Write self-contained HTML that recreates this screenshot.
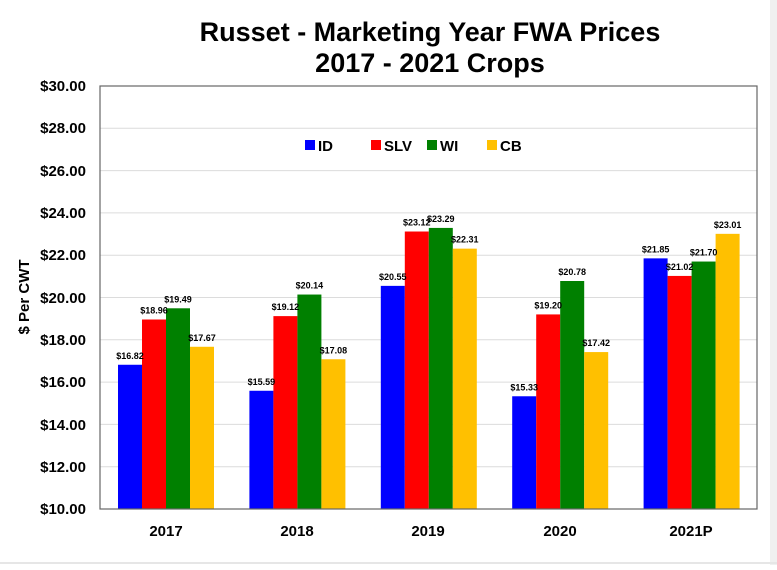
<!DOCTYPE html>
<html><head><style>
body{margin:0;background:#fff;}
svg text{font-family:"Liberation Sans",Arial,sans-serif;font-weight:bold;}
</style></head><body>
<svg width="777" height="565" xmlns="http://www.w3.org/2000/svg">
<rect x="0" y="0" width="777" height="565" fill="#fff"/>
<rect x="770" y="0" width="7" height="565" fill="#f0f0f0"/>
<line x1="0" y1="563" x2="777" y2="563" stroke="#e6e6e6" stroke-width="2"/>
<text x="430" y="41" font-size="27" text-anchor="middle" fill="#000">Russet - Marketing Year FWA Prices</text>
<text x="430" y="72" font-size="27" text-anchor="middle" fill="#000">2017 - 2021 Crops</text>
<g stroke="#dcdcdc" stroke-width="1">
<line x1="100" y1="128.3" x2="757" y2="128.3"/><line x1="100" y1="170.6" x2="757" y2="170.6"/>
<line x1="100" y1="212.9" x2="757" y2="212.9"/><line x1="100" y1="255.2" x2="757" y2="255.2"/>
<line x1="100" y1="297.5" x2="757" y2="297.5"/><line x1="100" y1="339.8" x2="757" y2="339.8"/>
<line x1="100" y1="382.1" x2="757" y2="382.1"/><line x1="100" y1="424.4" x2="757" y2="424.4"/>
<line x1="100" y1="466.7" x2="757" y2="466.7"/>
</g>
<g font-size="15" text-anchor="end" fill="#000">
<text x="86" y="91">$30.00</text><text x="86" y="133">$28.00</text><text x="86" y="176">$26.00</text>
<text x="86" y="218">$24.00</text><text x="86" y="260">$22.00</text><text x="86" y="303">$20.00</text>
<text x="86" y="345">$18.00</text><text x="86" y="387">$16.00</text><text x="86" y="430">$14.00</text>
<text x="86" y="472">$12.00</text><text x="86" y="514">$10.00</text>
</g>
<text transform="translate(29,297) rotate(-90)" font-size="15" text-anchor="middle">$ Per CWT</text>
<g font-size="15" text-anchor="middle">
<text x="166" y="536">2017</text><text x="297" y="536">2018</text><text x="428" y="536">2019</text>
<text x="560" y="536">2020</text><text x="691" y="536">2021P</text>
</g>
<g font-size="15">
<rect x="305" y="140" width="10" height="10" fill="#0000ff"/><text x="318" y="151">ID</text>
<rect x="371" y="140" width="10" height="10" fill="#ff0000"/><text x="384" y="151">SLV</text>
<rect x="427" y="140" width="10" height="10" fill="#008000"/><text x="440" y="151">WI</text>
<rect x="487" y="140" width="10" height="10" fill="#ffc000"/><text x="500" y="151">CB</text>
</g>
<g>
<rect x="118" y="364.76" width="24" height="144.24" fill="#0000ff"/>
<rect x="142" y="319.5" width="24" height="189.5" fill="#ff0000"/>
<rect x="166" y="308.29" width="24" height="200.71" fill="#008000"/>
<rect x="190" y="346.78" width="24" height="162.22" fill="#ffc000"/>
<rect x="249.4" y="390.77" width="24" height="118.23" fill="#0000ff"/>
<rect x="273.4" y="316.11" width="24" height="192.89" fill="#ff0000"/>
<rect x="297.4" y="294.54" width="24" height="214.46" fill="#008000"/>
<rect x="321.4" y="359.26" width="24" height="149.74" fill="#ffc000"/>
<rect x="380.8" y="285.87" width="24" height="223.13" fill="#0000ff"/>
<rect x="404.8" y="231.51" width="24" height="277.49" fill="#ff0000"/>
<rect x="428.8" y="227.92" width="24" height="281.08" fill="#008000"/>
<rect x="452.8" y="248.64" width="24" height="260.36" fill="#ffc000"/>
<rect x="512.2" y="396.27" width="24" height="112.73" fill="#0000ff"/>
<rect x="536.2" y="314.42" width="24" height="194.58" fill="#ff0000"/>
<rect x="560.2" y="281" width="24" height="228" fill="#008000"/>
<rect x="584.2" y="352.07" width="24" height="156.93" fill="#ffc000"/>
<rect x="643.6" y="258.37" width="24" height="250.63" fill="#0000ff"/>
<rect x="667.6" y="275.93" width="24" height="233.07" fill="#ff0000"/>
<rect x="691.6" y="261.54" width="24" height="247.46" fill="#008000"/>
<rect x="715.6" y="233.84" width="24" height="275.16" fill="#ffc000"/>
</g>
<g font-size="9" text-anchor="middle" fill="#000">
<text x="130" y="358.8">$16.82</text><text x="154" y="313.5">$18.96</text><text x="178" y="302.3">$19.49</text><text x="202" y="340.8">$17.67</text>
<text x="261.4" y="384.8">$15.59</text><text x="285.4" y="310.1">$19.12</text><text x="309.4" y="288.5">$20.14</text><text x="333.4" y="353.3">$17.08</text>
<text x="392.8" y="279.9">$20.55</text><text x="416.8" y="225.5">$23.12</text><text x="440.8" y="221.9">$23.29</text><text x="464.8" y="242.6">$22.31</text>
<text x="524.2" y="390.3">$15.33</text><text x="548.2" y="308.4">$19.20</text><text x="572.2" y="275">$20.78</text><text x="596.2" y="346.1">$17.42</text>
<text x="655.6" y="252.4">$21.85</text><text x="679.6" y="269.9">$21.02</text><text x="703.6" y="255.5">$21.70</text><text x="727.6" y="227.8">$23.01</text>
</g>
<rect x="100" y="86" width="657" height="423" fill="none" stroke="#666" stroke-width="1.2"/>
</svg>
</body></html>
